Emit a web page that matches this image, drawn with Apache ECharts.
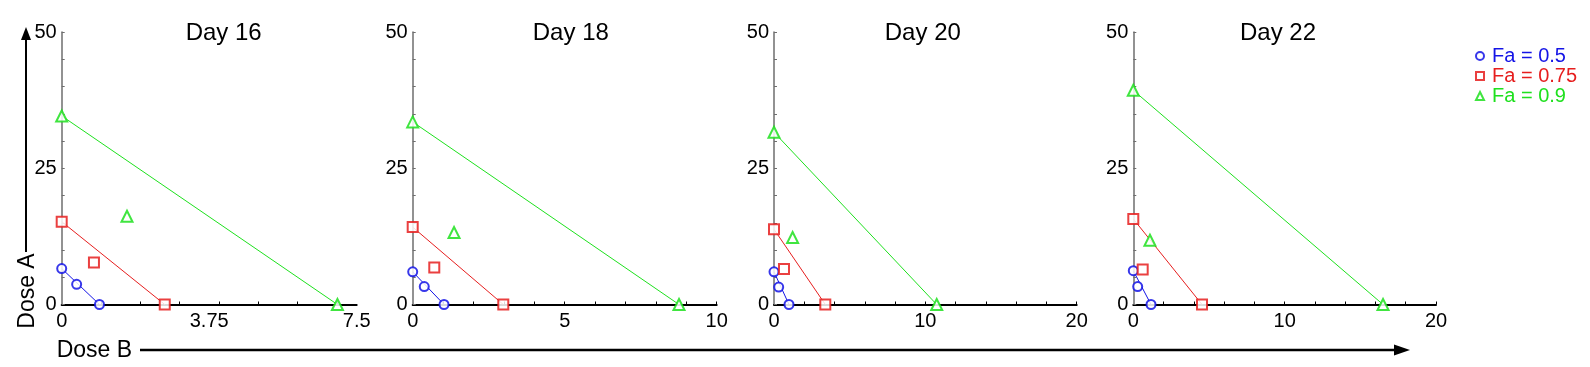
<!DOCTYPE html>
<html>
<head>
<meta charset="utf-8">
<script src="https://cdn.jsdelivr.net/npm/echarts@6/dist/echarts.min.js"></script>
<style>
html,body{margin:0;padding:0;background:#fff;}
#chart{width:1590px;height:367px;}
</style>
</head>
<body>
<div id="chart"></div>
<script>
// ---- data ----
const days = ['Day 16', 'Day 18', 'Day 20', 'Day 22'];
const faNames = ['Fa = 0.5', 'Fa = 0.75', 'Fa = 0.9'];
// [Dose B, Dose A] points per day
const fa050 = [
  [[0, 6.6], [0.38, 3.7], [0.96, 0]],
  [[0, 6.0], [0.38, 3.3], [1.03, 0]],
  [[0, 6.0], [0.31, 3.2], [0.99, 0]],
  [[0, 6.2], [0.29, 3.3], [1.17, 0]]
];
const fa075 = [
  [[0, 15.2], [0.82, 7.7], [2.62, 0]],
  [[0, 14.2], [0.71, 6.8], [2.98, 0]],
  [[0, 13.8], [0.66, 6.5], [3.39, 0]],
  [[0, 15.7], [0.62, 6.4], [4.54, 0]]
];
const fa090 = [
  [[0, 34.6], [1.66, 16.2], [7.01, 0]],
  [[0, 33.5], [1.36, 13.2], [8.76, 0]],
  [[0, 31.6], [1.23, 12.3], [10.75, 0]],
  [[0, 39.3], [1.10, 11.8], [16.5, 0]]
];
const xMax = [7.5, 10, 20, 20];
const xTickValues = [
  [1, 2, 3, 4, 5, 6, 7],
  [1, 2, 3, 4, 5, 6, 7, 8, 9, 10],
  [2, 4, 6, 8, 10, 12, 14, 16, 18, 20],
  [2, 4, 6, 8, 10, 12, 14, 16, 18, 20]
];
const xLabelValues = [[0, 3.75, 7.5], [0, 5, 10], [0, 10, 20], [0, 10, 20]];
const yTickValues = [0, 5, 10, 15, 20, 25, 30, 35, 40, 45, 50];
const yLabelValues = [0, 25, 50];

// ---- layout ----
const FONT = 'Liberation Sans, Arial, sans-serif';
const colors = ['#1414e6', '#e61e1e', '#1ee01e'];
const symbols = ['emptyCircle', 'emptyRect', 'emptyTriangle'];
const symSizes = [9, 10, 11];
const gridLeft = [61.7, 412.7, 774, 1133.3];
const gridWidth = [295, 304, 302.7, 302.7];
const titleX = [223.7, 570.8, 922.8, 1278];
const GRID_TOP = 32, GRID_H = 272.5;

const grids = [], xAxes = [], yAxes = [], series = [];
const allSets = [fa050, fa075, fa090];
for (let p = 0; p < 4; p++) {
  grids.push({left: gridLeft[p], top: GRID_TOP, width: gridWidth[p], height: GRID_H});
  xAxes.push({
    type: 'value', gridIndex: p, min: 0, max: xMax[p],
    splitLine: {show: false},
    axisLine: {onZero: false, lineStyle: {color: '#000', width: 2}},
    axisTick: {show: true, inside: true, length: 3, customValues: xTickValues[p], lineStyle: {color: '#000', width: 1}},
    axisLabel: {customValues: xLabelValues[p], color: '#000', fontSize: 20, fontFamily: FONT, margin: 7,
      formatter: v => String(v)}
  });
  yAxes.push({
    type: 'value', gridIndex: p, min: 0, max: 50,
    splitLine: {show: false},
    axisLine: {show: true, onZero: false, lineStyle: {color: '#6e6e6e', width: 1.5}},
    axisTick: {show: true, inside: true, length: 3, customValues: yTickValues, lineStyle: {color: '#6e6e6e', width: 1}},
    axisLabel: {customValues: yLabelValues, color: '#000', fontSize: 20, fontFamily: FONT, margin: 5}
  });
  for (let s = 0; s < 3; s++) {
    const pts = allSets[s][p];
    series.push({
      type: 'line', name: faNames[s] + ' line', xAxisIndex: p, yAxisIndex: p,
      data: [pts[0], pts[pts.length - 1]], symbol: 'none', silent: true,
      lineStyle: {color: colors[s], width: 1}, z: 2
    });
    series.push({
      type: 'scatter', name: faNames[s], xAxisIndex: p, yAxisIndex: p,
      data: pts, symbol: symbols[s], symbolSize: symSizes[s],
      itemStyle: {color: colors[s], borderColor: colors[s], borderWidth: 0.8, opacity: 0.85},
      z: 3
    });
  }
}

const graphics = [];
for (let p = 0; p < 4; p++) {
  graphics.push({type: 'text', x: titleX[p], y: 33,
    style: {text: days[p], fill: '#000', font: '24px ' + FONT, align: 'center', verticalAlign: 'middle'}});
}
// Dose A vertical label & arrow
graphics.push({type: 'text', x: 27.5, y: 291, rotation: Math.PI / 2,
  style: {text: 'Dose A', fill: '#000', font: '23px ' + FONT, align: 'center', verticalAlign: 'middle'}});
graphics.push({type: 'line', shape: {x1: 26, y1: 252, x2: 26, y2: 38}, style: {stroke: '#000', lineWidth: 2}});
graphics.push({type: 'polygon', shape: {points: [[26, 27], [21, 40], [31, 40]]}, style: {fill: '#000'}});
// Dose B label & arrow
graphics.push({type: 'text', x: 56.7, y: 350.5,
  style: {text: 'Dose B', fill: '#000', font: '23px ' + FONT, align: 'left', verticalAlign: 'middle'}});
graphics.push({type: 'line', shape: {x1: 140, y1: 350, x2: 1398, y2: 350}, style: {stroke: '#000', lineWidth: 2.5}});
graphics.push({type: 'polygon', shape: {points: [[1410, 350], [1394, 344.5], [1394, 355.5]]}, style: {fill: '#000'}});

const option = {
  animation: false,
  backgroundColor: '#fff',
  grid: grids, xAxis: xAxes, yAxis: yAxes, series: series,
  legend: {
    orient: 'vertical', left: 1475, top: 46, padding: 0, itemGap: 0,
    itemWidth: 8, itemHeight: 8, selectedMode: false,
    textStyle: {fontSize: 20, fontFamily: FONT, lineHeight: 18, padding: [0, 0, 0, 3]},
    data: faNames.map((n, i) => ({name: n, textStyle: {color: colors[i]}}))
  },
  graphic: graphics
};
const chart = echarts.init(document.getElementById('chart'), null, {renderer: 'canvas'});
chart.setOption(option);
</script>
</body>
</html>
